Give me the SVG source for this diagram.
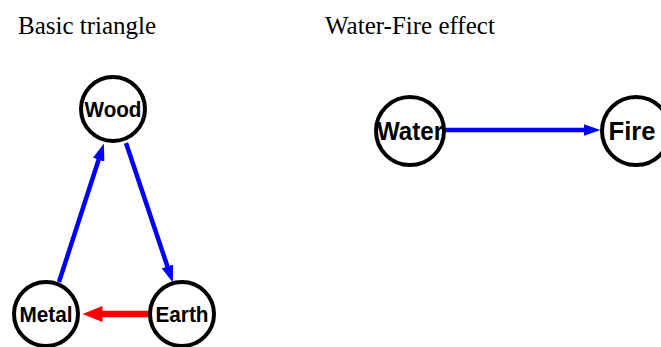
<svg xmlns="http://www.w3.org/2000/svg" width="661" height="347" viewBox="0 0 661 347">
<style>
.title{font-family:"Liberation Serif","Times New Roman",serif;font-size:25px;fill:#000}
.node circle{fill:#fff;stroke:#000;stroke-width:4}
.node text{font-family:"Liberation Sans",Arial,sans-serif;font-weight:bold;fill:#000;text-anchor:middle}
.s text{font-size:22px}
.l text{font-size:25px}
.blue{stroke:#0000ff;stroke-width:4.5;fill:none}
.red{stroke:#ff0000;stroke-width:6.5;fill:none}
</style>
<defs>
<marker id="ab" markerUnits="userSpaceOnUse" markerWidth="18" markerHeight="12" refX="0.5" refY="6" orient="auto">
<path d="M0,0 L17,6 L0,12 z" fill="#0000ff"/>
</marker>
<marker id="ar" markerUnits="userSpaceOnUse" markerWidth="21" markerHeight="16" refX="0.5" refY="8" orient="auto">
<path d="M0,0 L20,8 L0,16 z" fill="#ff0000"/>
</marker>
</defs>
<text class="title" x="18" y="34">Basic triangle</text>
<text class="title" x="325" y="34">Water-Fire effect</text>
<g id="connectors">
<line class="blue" x1="126" y1="143" x2="167.6" y2="266.9" marker-end="url(#ab)"/>
<line class="blue" x1="59" y1="282" x2="98.8" y2="159.2" marker-end="url(#ab)"/>
<line class="red" x1="150" y1="314" x2="102" y2="314" marker-end="url(#ar)"/>
<line class="blue" x1="445" y1="130" x2="584" y2="130" marker-end="url(#ab)"/>
</g>
<g id="wood" class="node s"><circle cx="113" cy="109" r="32"/><text x="113" y="117" textLength="57" lengthAdjust="spacingAndGlyphs">Wood</text></g>
<g id="metal" class="node s"><circle cx="46" cy="314" r="32"/><text x="46" y="322" textLength="53" lengthAdjust="spacingAndGlyphs">Metal</text></g>
<g id="earth" class="node s"><circle cx="182" cy="314" r="32"/><text x="182" y="322" textLength="53" lengthAdjust="spacingAndGlyphs">Earth</text></g>
<g id="water" class="node l"><circle cx="410" cy="131" r="34"/><text x="410" y="140" textLength="66" lengthAdjust="spacingAndGlyphs">Water</text></g>
<g id="fire" class="node l"><circle cx="636" cy="131" r="34"/><text x="632" y="140" textLength="47" lengthAdjust="spacingAndGlyphs">Fire</text></g>
</svg>
